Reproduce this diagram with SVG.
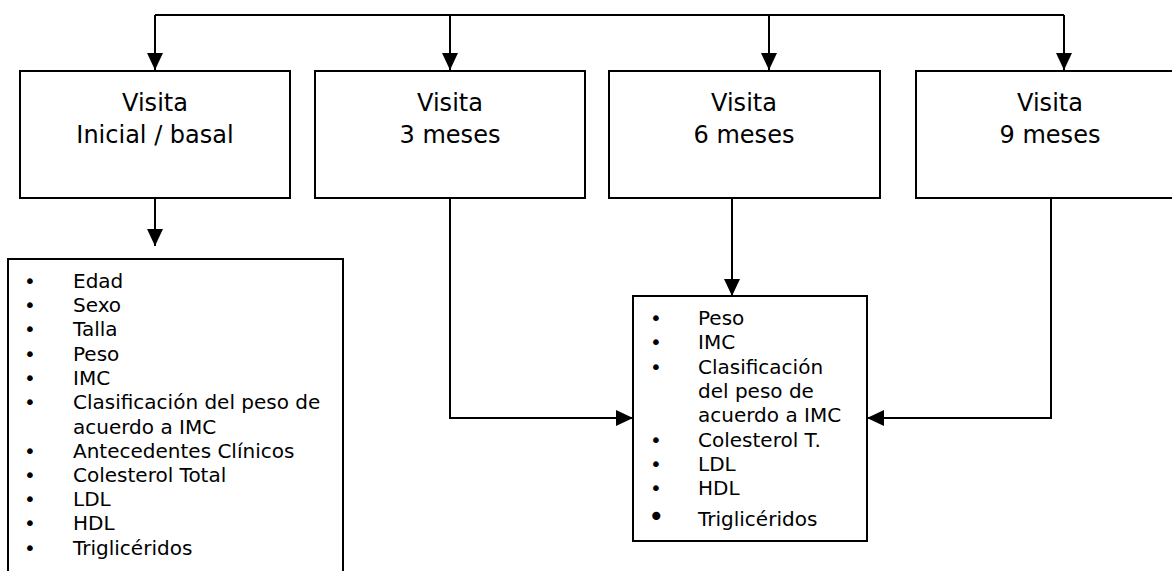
<svg xmlns="http://www.w3.org/2000/svg" width="1172" height="571" viewBox="0 0 1172 571">
<style>
.box{fill:#fff;stroke:#000;stroke-width:2}
.ln{fill:none;stroke:#000;stroke-width:2}
.h{font-family:Verdana,"DejaVu Sans",sans-serif;font-size:24px;text-anchor:middle;fill:#000}
.t{font-family:Verdana,"DejaVu Sans",sans-serif;font-size:20px;fill:#000}
</style>
<defs>
<marker id="arr" markerWidth="17" markerHeight="16" viewBox="0 0 17 16" refX="17" refY="8" orient="auto" markerUnits="userSpaceOnUse">
<path d="M0,0 L17,8 L0,16 Z" fill="#000"/>
</marker>
</defs>
<rect width="1172" height="571" fill="#fff"/>
<g id="connectors">
<path class="ln" d="M155,15 H1064"/>
<path class="ln" d="M155,15 V70" marker-end="url(#arr)"/>
<path class="ln" d="M450,15 V70" marker-end="url(#arr)"/>
<path class="ln" d="M769,15 V70" marker-end="url(#arr)"/>
<path class="ln" d="M1064,15 V70" marker-end="url(#arr)"/>
<path class="ln" d="M155,185 V246" marker-end="url(#arr)"/>
<path class="ln" d="M450,197 V418 H633" marker-end="url(#arr)"/>
<path class="ln" d="M732,197 V296" marker-end="url(#arr)"/>
<path class="ln" d="M1051,197 V418 H867" marker-end="url(#arr)"/>
</g>
<g id="visita-inicial">
<rect class="box" x="20" y="71" width="270" height="127"/>
<text class="h" x="155" y="111">Visita</text>
<text class="h" x="155" y="143">Inicial / basal</text>
</g>
<g id="visita-3">
<rect class="box" x="315" y="71" width="270" height="127"/>
<text class="h" x="450" y="111">Visita</text>
<text class="h" x="450" y="143">3 meses</text>
</g>
<g id="visita-6">
<rect class="box" x="609" y="71" width="271" height="127"/>
<text class="h" x="744" y="111">Visita</text>
<text class="h" x="744" y="143">6 meses</text>
</g>
<g id="visita-9">
<rect class="box" x="916" y="71" width="268" height="127"/>
<text class="h" x="1050" y="111">Visita</text>
<text class="h" x="1050" y="143">9 meses</text>
</g>
<g id="lista-basal">
<path class="box" d="M8,580 V259 H343 V580"/>
<g class="t">
<text x="24" y="288">•</text><text x="73" y="288">Edad</text>
<text x="24" y="312">•</text><text x="73" y="312">Sexo</text>
<text x="24" y="336">•</text><text x="73" y="336">Talla</text>
<text x="24" y="361">•</text><text x="73" y="361">Peso</text>
<text x="24" y="385">•</text><text x="73" y="385">IMC</text>
<text x="24" y="409">•</text><text x="73" y="409">Clasificación del peso de</text>
<text x="73" y="434">acuerdo a IMC</text>
<text x="24" y="458">•</text><text x="73" y="458">Antecedentes Clínicos</text>
<text x="24" y="482">•</text><text x="73" y="482">Colesterol Total</text>
<text x="24" y="506">•</text><text x="73" y="506">LDL</text>
<text x="24" y="530">•</text><text x="73" y="530">HDL</text>
<text x="24" y="555">•</text><text x="73" y="555">Triglicéridos</text>
</g>
</g>
<g id="lista-seguimiento">
<rect class="box" x="633" y="296" width="234" height="245"/>
<g class="t">
<text x="650" y="325">•</text><text x="698" y="325">Peso</text>
<text x="650" y="349">•</text><text x="698" y="349">IMC</text>
<text x="650" y="374">•</text><text x="698" y="374">Clasificación</text>
<text x="698" y="398">del peso de</text>
<text x="698" y="422">acuerdo a IMC</text>
<text x="650" y="447">•</text><text x="698" y="447">Colesterol T.</text>
<text x="650" y="471">•</text><text x="698" y="471">LDL</text>
<text x="650" y="495">•</text><text x="698" y="495">HDL</text>
<text x="648" y="526" style="font-size:28px">•</text><text x="698" y="526">Triglicéridos</text>
</g>
</g>
</svg>
